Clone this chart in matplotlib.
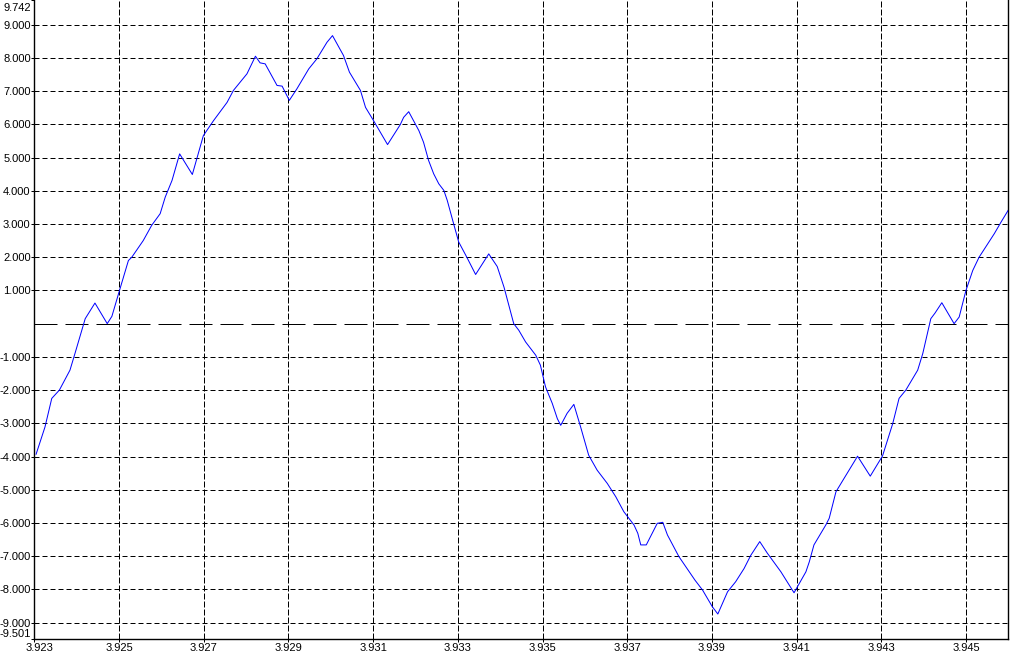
import matplotlib
matplotlib.use("Agg")
import matplotlib.pyplot as plt
import matplotlib.transforms as mtransforms
import numpy as np

# time (s) and signal values
t = [3.92304, 3.92325, 3.92341, 3.92359, 3.92384, 3.92396, 3.92420, 3.92443,
     3.92472, 3.92483, 3.92501, 3.92522, 3.92530, 3.92557, 3.92577, 3.92597,
     3.92609, 3.92625, 3.92643, 3.92673, 3.92699, 3.92723, 3.92755, 3.92770,
     3.92802, 3.92822, 3.92833, 3.92845, 3.92873, 3.92885, 3.92902, 3.92920,
     3.92948, 3.92967, 3.92991, 3.93004, 3.93030, 3.93044, 3.93070, 3.93082,
     3.93101, 3.93134, 3.93164, 3.93172, 3.93184, 3.93208, 3.93219, 3.93231,
     3.93243, 3.93255, 3.93267, 3.93275, 3.93290, 3.93302, 3.93322, 3.93342,
     3.93373, 3.93393, 3.93409, 3.93432, 3.93444, 3.93460, 3.93484, 3.93495,
     3.93507, 3.93523, 3.93535, 3.93543, 3.93558, 3.93574, 3.93590, 3.93609,
     3.93629, 3.93653, 3.93673, 3.93692, 3.93716, 3.93725, 3.93732, 3.93745,
     3.93771, 3.93784, 3.93795, 3.93822, 3.93860, 3.93878, 3.93901, 3.93914,
     3.93937, 3.93956, 3.93976, 3.93992, 3.94013, 3.94031, 3.94063, 3.94094,
     3.94122, 3.94130, 3.94141, 3.94169, 3.94177, 3.94193, 3.94212, 3.94244,
     3.94274, 3.94303, 3.94327, 3.94342, 3.94358, 3.94386, 3.94398, 3.94417,
     3.94427, 3.94443, 3.94472, 3.94484, 3.94500, 3.94516, 3.94531, 3.94567,
     3.94583, 3.94602]
v = [-3.93, -3.11, -2.25, -2.00, -1.40, -0.89, 0.15, 0.62,
     0.00, 0.22, 1.00, 1.90, 2.00, 2.50, 2.96, 3.31,
     3.81, 4.31, 5.11, 4.49, 5.66, 6.11, 6.66, 7.02,
     7.52, 8.05, 7.85, 7.82, 7.17, 7.15, 6.72, 7.07,
     7.67, 7.97, 8.47, 8.67, 8.07, 7.57, 7.02, 6.51,
     6.11, 5.39, 5.99, 6.21, 6.38, 5.81, 5.46, 4.91,
     4.51, 4.21, 4.01, 3.71, 3.01, 2.46, 1.98, 1.48,
     2.10, 1.72, 1.10, 0.00, -0.20, -0.55, -0.95, -1.25,
     -1.90, -2.40, -2.86, -3.06, -2.70, -2.43, -3.11, -3.96,
     -4.41, -4.81, -5.21, -5.66, -6.06, -6.31, -6.66, -6.66,
     -6.01, -5.98, -6.36, -7.01, -7.72, -8.02, -8.52, -8.74,
     -8.07, -7.77, -7.37, -6.97, -6.56, -6.91, -7.47, -8.10,
     -7.47, -7.17, -6.66, -6.06, -5.86, -5.06, -4.66, -3.99,
     -4.59, -3.98, -3.01, -2.25, -2.00, -1.40, -0.90, 0.15,
     0.32, 0.63, 0.00, 0.20, 1.00, 1.60, 2.00, 2.71,
     3.06, 3.46]

x_min, x_max = 3.923, 3.946
y_min, y_max = -9.501, 9.742
x_ticks = [3.923, 3.925, 3.927, 3.929, 3.931, 3.933, 3.935, 3.937,
           3.939, 3.941, 3.943, 3.945]
y_grid = [-9, -8, -7, -6, -5, -4, -3, -2, -1, 1, 2, 3, 4, 5, 6, 7, 8, 9]

fig = plt.figure(figsize=(10.11, 6.54), dpi=100)
ax = fig.add_axes([34.4 / 1011, 14.7 / 654, 973.9 / 1011, 639.3 / 654])

px = 0.72  # one pixel in points
for g in y_grid:
    ax.axhline(g, color="black", lw=px, ls=(0, (5, 3)), zorder=1)
for xt in x_ticks[1:]:
    ax.axvline(xt, color="black", lw=px, ls=(0, (6, 2)), zorder=1)
ax.axhline(0, color="black", lw=px, ls=(0, (23, 8)), zorder=1)

ax.plot(t, v, color="#0000ff", lw=px, zorder=3)

ax.set_xlim(x_min, x_max)
ax.set_ylim(y_min, y_max)

y_ticks = [y_min] + y_grid + [y_max]
ax.set_yticks(y_ticks)
ax.set_yticklabels(["%.3f" % y for y in y_ticks])
ax.set_xticks(x_ticks)
ax.set_xticklabels(["%.3f" % x for x in x_ticks])

ax.tick_params(axis="both", direction="out", length=2.2, width=px,
               labelsize=8, pad=0.5, colors="black")
for lab in ax.get_yticklabels() + ax.get_xticklabels():
    lab.set_family("Liberation Sans")

ylabs = ax.get_yticklabels()
ylabs[0].set_va("bottom")
ylabs[-1].set_va("top")
ylabs[-1].set_transform(ylabs[-1].get_transform() +
                        mtransforms.ScaledTranslation(0, -3 / 100, fig.dpi_scale_trans))
xlabs = ax.get_xticklabels()
xlabs[0].set_transform(xlabs[0].get_transform() +
                       mtransforms.ScaledTranslation(5 / 100, 0, fig.dpi_scale_trans))

ax.spines["top"].set_visible(False)
for s in ["left", "bottom", "right"]:
    ax.spines[s].set_linewidth(1.0)
    ax.spines[s].set_color("black")

fig.savefig("out.png", dpi=100)
